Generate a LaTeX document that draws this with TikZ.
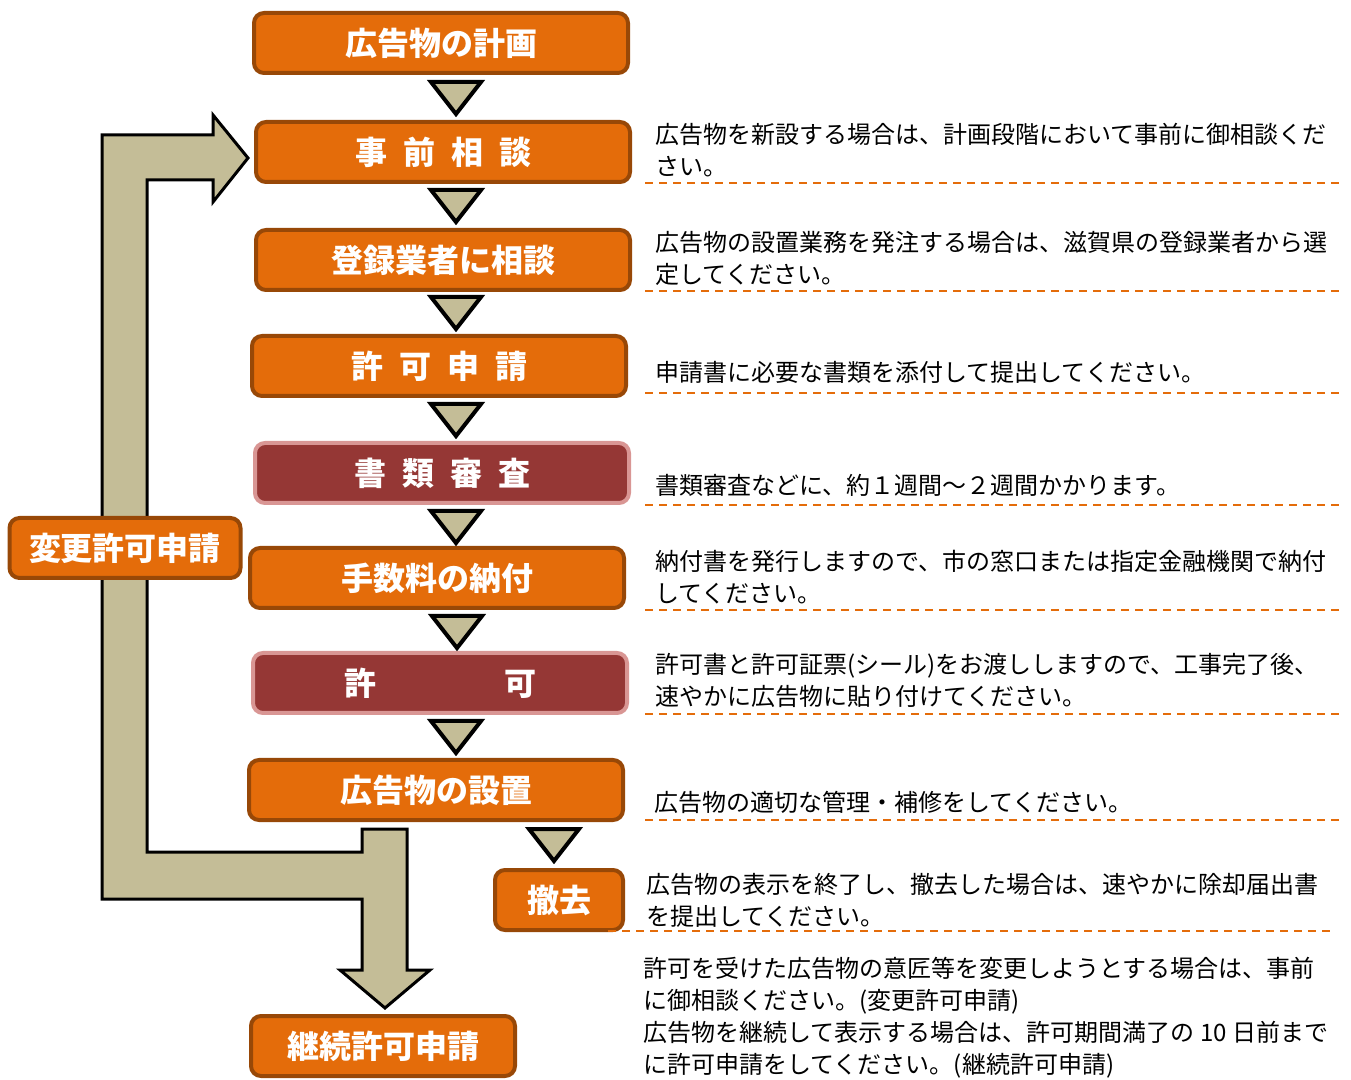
\documentclass[tikz,border=0pt]{standalone}
\usepackage{fontspec}
\newfontfamily\jpfont{Noto Sans CJK JP}
\usetikzlibrary{calc}

\definecolor{boxfill}{HTML}{E46C0A}
\definecolor{boxedge}{HTML}{984807}
\definecolor{checkfill}{HTML}{953735}
\definecolor{checkedge}{HTML}{D99694}
\definecolor{tan}{HTML}{C4BD97}
\definecolor{ruleorange}{HTML}{E46C0A}

\tikzset{
  stepbox/.style={shape=rectangle,rounded corners=5pt,draw=boxedge,fill=boxfill,line width=2pt,
    minimum width=187pt,minimum height=30pt,inner sep=0pt,text=white,align=center,
    font=\jpfont\bfseries\fontsize{16}{16}\selectfont},
  checkbox/.style={stepbox,draw=checkedge,fill=checkfill},
  note/.style={anchor=west,align=left,inner sep=0pt,text=black,
    font=\jpfont\fontsize{12}{16}\selectfont},
  tri/.style={draw=black,fill=tan,line width=2pt,line join=miter},
  rule/.style={draw=ruleorange,line width=1pt,dash pattern=on 4pt off 3pt},
}

\begin{document}
\begin{tikzpicture}[x=0.5pt,y=-0.5pt]
\useasboundingbox (0,0) rectangle (1351,1080);

% return arrow behind the change box
\path [draw=black,fill=tan,line width=1.5pt,line join=miter] (102,135) -- (213,135) -- (213,115) -- (248,158) -- (213,202) -- (213,180) -- (147,180) -- (147,852) -- (362,852) -- (362,829) -- (407,829) -- (407,970) -- (430,970) -- (385,1008) -- (340,970) -- (362,970) -- (362,899) -- (102,899) -- cycle;

% flow boxes
\node[stepbox] (plan) at (441,43) {広告物の計画};
\node[stepbox] (consult) at (443,152) {事\hspace{0.5em}前\hspace{0.5em}相\hspace{0.5em}談};
\node[stepbox] (dealer) at (443,260) {登録業者に相談};
\node[stepbox] (apply) at (439,366) {許\hspace{0.5em}可\hspace{0.5em}申\hspace{0.5em}請};
\node[checkbox] (review) at (442,473) {書\hspace{0.5em}類\hspace{0.5em}審\hspace{0.5em}査};
\node[stepbox] (fee) at (437,578) {手数料の納付};
\node[checkbox] (permit) at (440,683) {許\hspace{4em}可};
\node[stepbox] (install) at (436,790) {広告物の設置};
\node[stepbox,minimum width=64pt] (remove) at (559,900) {撤去};
\node[stepbox,minimum width=132pt] (renew) at (383,1046) {継続許可申請};
\node[stepbox,minimum width=115.5pt] (change) at (125,548) {変更許可申請};

% down triangles
\foreach \x/\y in {456/98,456/206,456/313,456/420,456/527,457/632,456/737,554/845}
  \path[tri] (\x-25,\y-16) -- (\x+25,\y-16) -- (\x,\y+16) -- cycle;

% notes
\node[note] (nconsult) at (655,150) {広告物を新設する場合は、計画段階において事前に御相談くだ\\さい。};
\node[note] (ndealer) at (655,258) {広告物の設置業務を発注する場合は、滋賀県の登録業者から選\\定してください。};
\node[note] (napply) at (655,372) {申請書に必要な書類を添付して提出してください。};
\node[note] (nreview) at (655,485) {書類審査などに、約１週間～２週間かかります。};
\node[note] (nfee) at (655,577) {納付書を発行しますので、市の窓口または指定金融機関で納付\\してください。};
\node[note] (npermit) at (655,680) {許可書と許可証票(シール)をお渡ししますので、工事完了後、\\速やかに広告物に貼り付けてください。};
\node[note] (ninstall) at (654,802) {広告物の適切な管理・補修をしてください。};
\node[note] (nremove) at (646,900) {広告物の表示を終了し、撤去した場合は、速やかに除却届出書\\を提出してください。};
\node[note] (nrenew) at (643,1018) {許可を受けた広告物の意匠等を変更しようとする場合は、事前\\に御相談ください。(変更許可申請)\\広告物を継続して表示する場合は、許可期間満了の 10 日前まで\\に許可申請をしてください。(継続許可申請)};

% dashed rules
\foreach \y in {183,291,393,505,610,714,820}
  \path[rule] (645,\y) -- (1340,\y);
\path[rule] (608,931) -- (1330,931);
\end{tikzpicture}
\end{document}
